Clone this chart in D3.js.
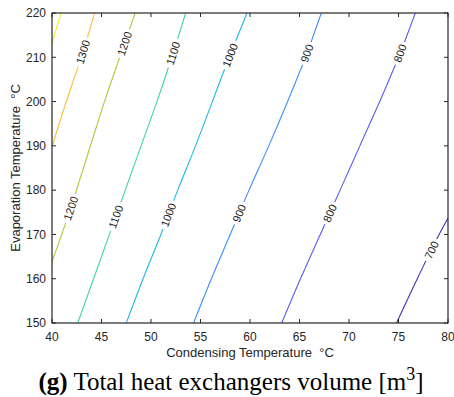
<!DOCTYPE html>
<html>
<head>
<meta charset="utf-8">
<script src="https://cdn.jsdelivr.net/npm/d3@7"></script>
<style>
    body { margin: 0; background: #ffffff; }
</style>
</head>
<body>
<script>
// axis ticks
const xTicks = [40, 45, 50, 55, 60, 65, 70, 75, 80];
const yTicks = [150, 160, 170, 180, 190, 200, 210, 220];

// contour levels and their colours
const levels = [700, 800, 900, 1000, 1100, 1200, 1300, 1400];
const levelColors = ["#4433b0", "#5a5cf0", "#3d8ef5", "#22b8e6", "#3dd6a4", "#a8cc3a", "#fcbe3c", "#f2ee1c"];

// contour lines, [condensing T, evaporation T]
const line700 = [[74.8, 150], [76.9, 160], [79.1, 170], [80, 173.7]];
const line800 = [[63.2, 150], [65.1, 160], [67.1, 170], [69.1, 180], [71.1, 190], [73.1, 200], [75.0, 210], [76.7, 220]];
const line900 = [[54.3, 150], [56.1, 160], [58.0, 170], [59.9, 180], [61.9, 190], [63.8, 200], [65.6, 210], [67.2, 220]];
const line1000 = [[47.5, 150], [49.2, 160], [51.0, 170], [52.7, 180], [54.5, 190], [56.2, 200], [57.9, 210], [59.7, 220]];
const line1100 = [[42.6, 150], [44.2, 160], [45.8, 170], [47.4, 180], [49.0, 190], [50.6, 200], [52.1, 210], [53.5, 220]];
const line1200 = [[40, 163.8], [41.9, 176], [43.6, 188], [45.3, 200], [47.0, 211], [48.4, 220]];
const line1300 = [[40, 189.8], [41.3, 199], [42.5, 207], [43.1, 211], [44.3, 220]];
const line1400 = [[40, 213.2], [40.9, 220]];

// where the inline labels sit (level, evaporation T)
const labelLevels = [1300, 1200, 1200, 1100, 1100, 1000, 1000, 900, 900, 800, 800, 700];
const labelYs = [211.2, 213.1, 175.9, 210.9, 174, 210.5, 174.4, 210.9, 174.8, 210.9, 174.8, 166.5];

const contourLines = [line700, line800, line900, line1000, line1100, line1200, line1300, line1400];

const width = 454, height = 397;
const margin = {left: 52, right: 6, top: 13, bottom: 74};

const svg = d3.select("body")
    .append("svg")
    .attr("width", width)
    .attr("height", height)
    .style("background-color", "#ffffff");

const x = d3.scaleLinear().domain([40, 80]).range([margin.left, width - margin.right]);
const y = d3.scaleLinear().domain([150, 220]).range([height - margin.bottom, margin.top]);

const axisColor = "#262626";
const tickFont = "'Liberation Sans', Arial, sans-serif";

svg.append("clipPath")
    .attr("id", "plotClip")
    .append("rect")
    .attr("x", x(40))
    .attr("y", y(220))
    .attr("width", x(80) - x(40))
    .attr("height", y(150) - y(220));

// contour lines
const lineGen = d3.line()
    .x(d => x(d[0]))
    .y(d => y(d[1]))
    .curve(d3.curveMonotoneY);

svg.append("g")
    .attr("clip-path", "url(#plotClip)")
    .selectAll("path")
    .data(contourLines)
    .enter()
    .append("path")
    .attr("d", d => lineGen(d))
    .attr("fill", "none")
    .attr("stroke", (d, i) => levelColors[i])
    .attr("stroke-width", 1.1);

// find the screen position and angle of a label on its contour
function placeLabel(level, yv) {
    let pts = contourLines[levels.indexOf(level)];
    for (let i = 0; i < pts.length - 1; i++) {
        let a = pts[i], b = pts[i + 1];
        if (yv >= a[1] && yv <= b[1]) {
            let t = (yv - a[1]) / (b[1] - a[1]);
            let xv = a[0] + t * (b[0] - a[0]);
            let ang = Math.atan2(y(b[1]) - y(a[1]), x(b[0]) - x(a[0])) * 180 / Math.PI;
            return {px: x(xv), py: y(yv), angle: ang};
        }
    }
    return {px: x(pts[0][0]), py: y(yv), angle: -70};
}

const labels = svg.append("g")
    .selectAll("g")
    .data(labelLevels.map((l, i) => ({level: l, p: placeLabel(l, labelYs[i])})))
    .enter()
    .append("g")
    .attr("transform", d => "translate(" + d.p.px + "," + d.p.py + ") rotate(" + d.p.angle + ")");

labels.append("rect")
    .attr("x", d => -(String(d.level).length * 6.1 + 6) / 2)
    .attr("y", -6)
    .attr("width", d => String(d.level).length * 6.1 + 6)
    .attr("height", 12)
    .attr("fill", "#ffffff");

labels.append("text")
    .text(d => d.level)
    .attr("text-anchor", "middle")
    .attr("dy", "0.36em")
    .attr("font-family", tickFont)
    .attr("font-size", 11)
    .attr("fill", "#1a1a1a");

// box and ticks
const axes = svg.append("g");

axes.append("rect")
    .attr("x", x(40))
    .attr("y", y(220))
    .attr("width", x(80) - x(40))
    .attr("height", y(150) - y(220))
    .attr("fill", "none")
    .attr("stroke", axisColor)
    .attr("stroke-width", 1.2);

const tickLen = 4;

xTicks.forEach(function (t) {
    axes.append("line")
        .attr("x1", x(t)).attr("x2", x(t))
        .attr("y1", y(150)).attr("y2", y(150) - tickLen)
        .attr("stroke", axisColor);
    axes.append("line")
        .attr("x1", x(t)).attr("x2", x(t))
        .attr("y1", y(220)).attr("y2", y(220) + tickLen)
        .attr("stroke", axisColor);
    axes.append("text")
        .text(t)
        .attr("x", x(t))
        .attr("y", y(150) + 18)
        .attr("text-anchor", "middle")
        .attr("font-family", tickFont)
        .attr("font-size", 12)
        .attr("fill", axisColor);
});

yTicks.forEach(function (t) {
    axes.append("line")
        .attr("x1", x(40)).attr("x2", x(40) + tickLen)
        .attr("y1", y(t)).attr("y2", y(t))
        .attr("stroke", axisColor);
    axes.append("line")
        .attr("x1", x(80)).attr("x2", x(80) - tickLen)
        .attr("y1", y(t)).attr("y2", y(t))
        .attr("stroke", axisColor);
    axes.append("text")
        .text(t)
        .attr("x", x(40) - 6)
        .attr("y", y(t))
        .attr("dy", "0.36em")
        .attr("text-anchor", "end")
        .attr("font-family", tickFont)
        .attr("font-size", 12)
        .attr("fill", axisColor);
});

// axis titles
svg.append("text")
    .text("Condensing Temperature  \u00B0C")
    .attr("x", (x(40) + x(80)) / 2)
    .attr("y", y(150) + 34)
    .attr("text-anchor", "middle")
    .attr("font-family", tickFont)
    .attr("font-size", 13)
    .attr("fill", axisColor)
    .style("white-space", "pre");

svg.append("text")
    .text("Evaporation Temperature  \u00B0C")
    .attr("transform", "translate(20," + (y(150) + y(220)) / 2 + ") rotate(-90)")
    .attr("text-anchor", "middle")
    .attr("font-family", tickFont)
    .attr("font-size", 13)
    .attr("fill", axisColor)
    .style("white-space", "pre");

// caption
const caption = svg.append("text")
    .attr("x", 231)
    .attr("y", 390)
    .attr("text-anchor", "middle")
    .attr("font-family", "'Liberation Serif', 'Times New Roman', serif")
    .attr("font-size", 25)
    .attr("fill", "#000000");

caption.append("tspan").attr("font-weight", "bold").text("(g)");
caption.append("tspan").text(" Total heat exchangers volume [m");
caption.append("tspan").attr("font-size", 18).attr("dy", -10).text("3");
caption.append("tspan").attr("dy", 10).text("]");
</script>
</body>
</html>
